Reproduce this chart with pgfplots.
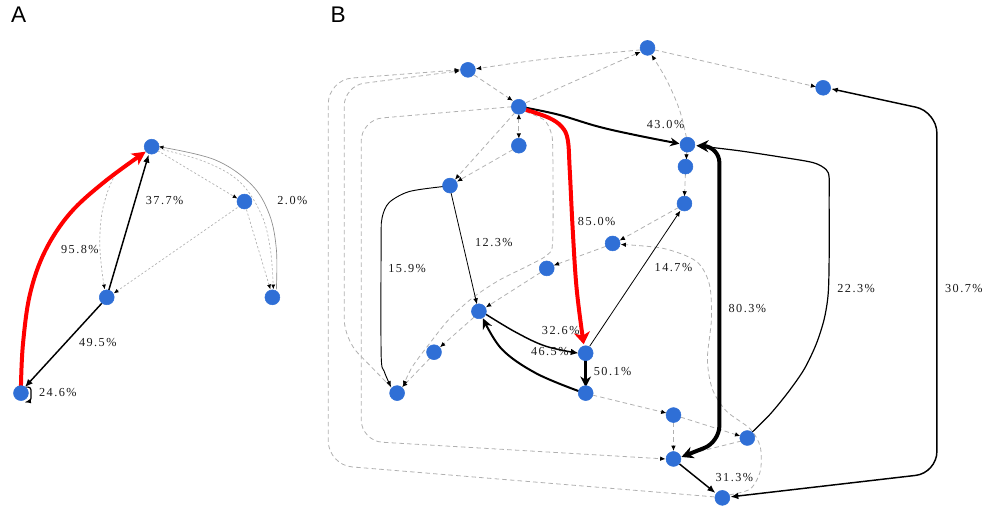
\documentclass[border=0pt]{standalone}
\usepackage{fontspec}
\setmainfont{Liberation Serif}
\newfontfamily\lblfont[LetterSpace=12]{Liberation Serif}
\newfontfamily\panelfont{Liberation Sans}
\usepackage{pgfplots}
\pgfplotsset{compat=1.18}
\usetikzlibrary{arrows.meta}
\definecolor{nodeblue}{RGB}{47,111,214}
\definecolor{edgegray}{RGB}{176,176,176}
\tikzset{
  gdash/.style={edgegray, line width=0.6pt, dash pattern=on 3.4pt off 2.4pt,
    -{Latex[length=4pt,width=3.4pt,color=black]}},
  gdashnt/.style={edgegray, line width=0.6pt, dash pattern=on 3.4pt off 2.4pt},
  gdot/.style={edgegray, line width=0.5pt, dash pattern=on 1.6pt off 1.6pt,
    -{Latex[length=3.6pt,width=3pt,color=black]}},
  thinln/.style={black, line width=0.6pt, -{Latex[length=4.5pt,width=3.6pt]}},
  midln/.style={black, line width=1.1pt, -{Latex[length=6pt,width=5pt]}},
  lbl/.style={font=\lblfont\fontsize{9.2}{10}\selectfont, text=black!90},
}
\begin{document}
\begin{tikzpicture}
\begin{axis}[
  width=740.25pt, height=382.5pt, scale only axis,
  xmin=0, xmax=987, ymin=0, ymax=510, y dir=reverse,
  hide axis, clip=false]

% keep the full drawing area as the picture's extent
\path[draw=none] (axis cs:0,0) rectangle (axis cs:987,510);

% ---------------- panel A ----------------
\addplot[gdot, smooth, tension=0.6] coordinates {(146,152) (118,172) (104,205) (100,240) (102,270) (105,290)};
\addplot[gdot] coordinates {(158,151) (238,199)};
\addplot[gdot] coordinates {(238,208) (114,294)};
\addplot[gdot] coordinates {(247,210) (271,290)};
\addplot[gdot, smooth, tension=0.6] coordinates {(159,149) (205,162) (240,182) (262,215) (271,250) (274,290)};
\addplot[black!45, line width=0.5pt, smooth, tension=0.6, -{Latex[length=3.6pt,width=3pt,color=black]}]
  coordinates {(277,290) (277,250) (270,215) (252,185) (215,160) (159,147)};
\addplot[red, line width=3pt, smooth, tension=0.6, -{Stealth[length=10pt,width=10pt,inset=2.5pt]}]
  coordinates {(21,387) (23,345) (30,295) (45,252) (70,214) (105,182) (146,152)};
\addplot[midln] coordinates {(109,291) (149,155)};
\addplot[midln] coordinates {(102,304) (25,388)};
\addplot[black, line width=0.9pt, rounded corners=2pt, -{Latex[length=4.5pt,width=3.6pt]}]
  coordinates {(26,388) (31,388) (31,402) (25,403)};

\node[lbl] at (axis cs:165,201) {37.7\%};
\node[lbl] at (axis cs:80,250) {95.8\%};
\node[lbl] at (axis cs:293,201) {2.0\%};
\node[lbl] at (axis cs:98,343) {49.5\%};
\node[lbl] at (axis cs:58,393) {24.6\%};

% ---------------- panel B : dashed links ----------------
\addplot[gdash, smooth, tension=0.6] coordinates {(642,50) (600,54) (540,60) (477,69)};
\addplot[gdash] coordinates {(527,103) (642,52)};
\addplot[gdash] coordinates {(656,50) (818,87)};
\addplot[gdash, smooth, tension=0.6] coordinates {(688,138) (681,110) (668,80) (653,55)};
\addplot[gdash] coordinates {(475,75) (514,101)};
\addplot[gdashnt, {Latex[length=4pt,width=3.4pt,color=black]}-{Latex[length=4pt,width=3.4pt,color=black]}]
  coordinates {(520,114) (520,139)};
\addplot[gdash] coordinates {(516,113) (456,180)};
\addplot[gdash] coordinates {(514,150) (458,182)};
\addplot[gdash] coordinates {(688,152) (688,160)};
\addplot[gdash] coordinates {(687,174) (686,197)};
\addplot[gdash] coordinates {(680,208) (621,241)};
\addplot[gdash] coordinates {(607,247) (555,266)};
\addplot[gdash] coordinates {(542,273) (487,308)};
\addplot[gdash] coordinates {(475,318) (441,348)};
\addplot[gdash] coordinates {(431,359) (403,388)};
\addplot[gdash, smooth, tension=0.5] coordinates {(527,112) (545,120) (552,132) (554,150) (554,240) (549,255) (530,266) (500,281) (473,299) (450,320) (430,345) (413,368) (404,387)};
\addplot[gdash] coordinates {(594,396) (668,414)};
\addplot[gdash] coordinates {(675,423) (675,452)};
\addplot[gdash] coordinates {(682,418) (742,437)};
\addplot[gdashnt] coordinates {(743,442) (683,457)};
\addplot[gdash, smooth, tension=0.5] coordinates {(731,496) (752,490) (762,472) (762,448) (752,430) (728,412) (714,390) (709,360) (713,320) (711,285) (698,262) (665,249) (622,245)};
% long routed links on the left
\addplot[gdash, rounded corners=18pt] coordinates {(716,498) (329,466) (329,80) (461,70)};
\addplot[gdash, rounded corners=15pt] coordinates {(392,388) (345,340) (345,86) (461,71)};
\addplot[gdash, rounded corners=16pt] coordinates {(513,107) (362,120) (362,442) (667,460)};

% ---------------- panel B : weighted links ----------------
\addplot[black, line width=1.5pt, smooth, tension=0.6, -{Stealth[length=7pt,width=6.5pt]}]
  coordinates {(527,108) (560,115) (600,127) (640,136) (681,144)};
\addplot[black, line width=0.9pt, smooth, tension=0.5, -{Latex[length=5pt,width=4pt]}]
  coordinates {(754,433) (772,415) (790,393) (806,370) (818,345) (826,320) (830,295) (831,260) (831,200) (831,178) (828,170) (815,163) (780,157) (740,151) (698,146)};
\addplot[black, line width=3pt, rounded corners=12pt,
  {Stealth[length=9pt,width=9pt]}-{Stealth[length=9pt,width=9pt]}]
  coordinates {(683,458) (721,443) (721,147) (698,146)};
\addplot[black, line width=1.1pt, rounded corners=16pt,
  {Latex[length=5pt,width=4pt]}-{Latex[length=6pt,width=5pt]}]
  coordinates {(833,89) (939,112) (939,474) (732,498)};
\addplot[midln] coordinates {(681,465) (717,494)};
\addplot[black, line width=1.9pt, -{Stealth[length=8pt,width=8pt]}] coordinates {(587,361) (587,388)};
\addplot[midln, smooth, tension=0.6] coordinates {(487,315) (517,333) (547,347) (580,354)};
\addplot[black, line width=1.5pt, smooth, tension=0.6, -{Stealth[length=8pt,width=7.5pt]}]
  coordinates {(580,392) (537,374) (503,350) (484,319)};
\addplot[thinln] coordinates {(591,347) (682,211)};
\addplot[thinln] coordinates {(452,193) (478,305)};
\addplot[black, line width=0.7pt, smooth, tension=0.5, -{Latex[length=4.5pt,width=3.6pt]}]
  coordinates {(444,187) (410,192) (390,203) (383,218) (382,240) (382,355) (385,372) (392,388)};
\addplot[red, line width=3pt, smooth, tension=0.6, -{Stealth[length=9pt,width=12pt,inset=2.5pt]}]
  coordinates {(527,110) (550,118) (563,127) (569,140) (571,170) (574,230) (578,290) (585,345)};

\node[lbl] at (axis cs:667,125) {43.0\%};
\node[lbl] at (axis cs:598,222) {85.0\%};
\node[lbl] at (axis cs:495,243) {12.3\%};
\node[lbl] at (axis cs:408,269) {15.9\%};
\node[lbl] at (axis cs:675,268) {14.7\%};
\node[lbl] at (axis cs:749,309) {80.3\%};
\node[lbl] at (axis cs:858,289) {22.3\%};
\node[lbl] at (axis cs:966,289) {30.7\%};
\node[lbl] at (axis cs:562,331) {32.6\%};
\node[lbl] at (axis cs:551,352) {46.5\%};
\node[lbl] at (axis cs:614,372) {50.1\%};
\node[lbl] at (axis cs:736,479) {31.3\%};

% ---------------- nodes ----------------
\addplot[only marks, mark=*, mark size=5.6pt, color=nodeblue] table {
x y
152 147
245 202
107 298
273 298
21 394
649 48
469 70
825 88
520 107
520 146
689 145
687 167
451 186
686 204
614 244
548 269
480 312
435 353
587 354
398 394
587 394
675 416
749 439
675 460
724 499
};

\node[anchor=north west, inner sep=0pt, font=\panelfont\fontsize{17}{17}\selectfont] at (axis cs:11,7) {A};
\node[anchor=north west, inner sep=0pt, font=\panelfont\fontsize{17}{17}\selectfont] at (axis cs:331,7) {B};
\end{axis}
\end{tikzpicture}
\end{document}
